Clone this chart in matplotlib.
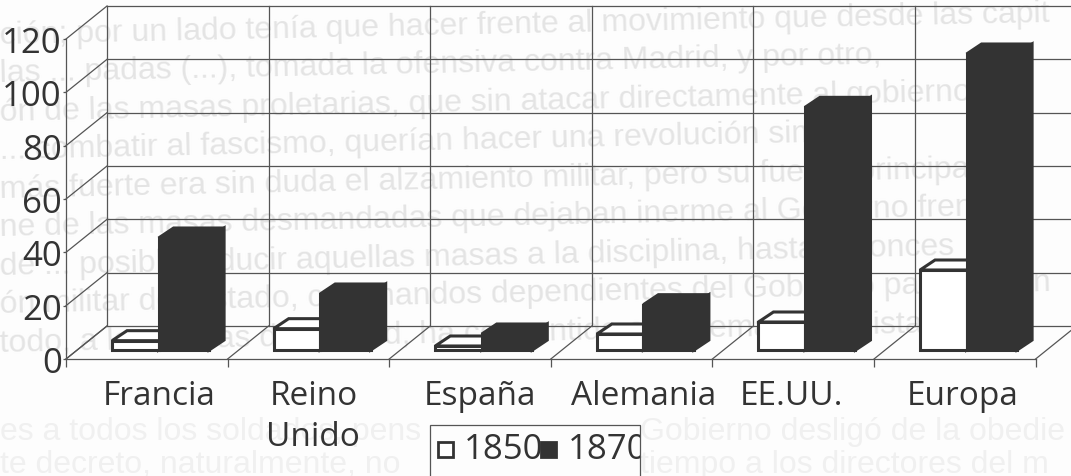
import matplotlib.pyplot as plt
from matplotlib.patches import Polygon, Rectangle

W, H = 1071, 477

categories = ["Francia", "Reino\nUnido", "España", "Alemania", "EE.UU.", "Europa"]
values_1850 = [3.5, 8, 1.5, 6, 10.5, 30]
values_1870 = [42, 21, 6, 17, 91, 111]
y_ticks = [0, 20, 40, 60, 80, 100, 120]
legend_labels = ["1850", "1870"]

# show-through from the other side of the scanned page
ghost_lines = [
    "ción; por un lado tenía que hacer frente al movimiento que desde las capit",
    "las ... padas (...), tomada la ofensiva contra Madrid, y por otro,",
    "ón de las masas proletarias, que sin atacar directamente al gobierno",
    "... combatir al fascismo, querían hacer una revolución similar",
    "más fuerte era sin duda el alzamiento militar, pero su fuerza principal v",
    "ne de las masas desmandadas que dejaban inerme al Gobierno frente",
    "de ... posible reducir aquellas masas a la disciplina, hasta entonces",
    "ón militar del Estado, con mandos dependientes del Gobierno para sosten",
    "todo, a las masas de Madrid, ha consentido el sistema capitalista",
]
ghost_lower = [
    (0, 432, "es a todos los soldados, pens"),
    (0, 465, "te decreto, naturalmente, no"),
    (640, 432, "Gobierno desligó de la obedie"),
    (640, 465, "tiempo a los directores del m"),
]

INK = "#333333"
GRID = "#555555"
PAPER = "#fdfdfd"
GHOST = "#e4e4e4"
GHOST_LOW = "#f0f0f0"
FONT = "Open Sans"

# layout in pixels of the scan
LEFT, BASE, CAT_W, UNIT = 66, 360, 161.6, 8 / 3
WALL_DX, WALL_DY = 41, 33
BAR_DX, BAR_DY = 15, 10

fig = plt.figure(figsize=(W / 100, H / 100), dpi=100, facecolor=PAPER)
ax = fig.add_axes(
    [LEFT / W, (H - BASE) / H, CAT_W * len(categories) / W, 120 * UNIT / H],
    facecolor="none",
)
ax.set_xlim(0, len(categories))
ax.set_ylim(0, 120)

for i, line in enumerate(ghost_lines):
    fig.text(0.0, 1 - (36 + i * 38.5) / H, line, fontsize=23, color=GHOST,
             family="Liberation Sans", va="center", rotation=1.2,
             rotation_mode="anchor", zorder=-5)
for x, y, line in ghost_lower:
    fig.text(x / W, 1 - y / H, line, fontsize=23, color=GHOST_LOW,
             family="Liberation Sans", va="center", zorder=-5)

dx = WALL_DX / CAT_W
dy = WALL_DY / UNIT
bdx = BAR_DX / CAT_W
bdy = BAR_DY / UNIT
bar_base = 9 / UNIT
bar_left = 0.285
white_w = 0.288
dark_w = 0.3125

# back wall and side wall grid
for t in y_ticks:
    ax.plot([dx, 7.0], [t + dy, t + dy], color=GRID, lw=0.9, clip_on=False, zorder=1)
    ax.plot([0, dx], [t, t + dy], color=GRID, lw=0.9, clip_on=False, zorder=1)
for i in range(len(categories) + 1):
    ax.plot([i + dx, i + dx], [dy, 120 + dy], color=GRID, lw=0.9, clip_on=False, zorder=1)
    ax.plot([i, i + dx], [0, dy], color=GRID, lw=0.9, clip_on=False, zorder=1)


def draw_bar(x0, w, v, face, z):
    x1 = x0 + w
    front = Rectangle((x0, bar_base), w, v, facecolor=face, edgecolor=INK,
                      lw=2.2, clip_on=False, zorder=z)
    top = Polygon([(x0, bar_base + v), (x1, bar_base + v),
                   (x1 + bdx, bar_base + v + bdy), (x0 + bdx, bar_base + v + bdy)],
                  facecolor=face, edgecolor=INK, lw=2.2, clip_on=False, zorder=z)
    side = Polygon([(x1, bar_base), (x1, bar_base + v),
                    (x1 + bdx, bar_base + v + bdy), (x1 + bdx, bar_base + bdy)],
                   facecolor=face, edgecolor=INK, lw=2.2, clip_on=False, zorder=z)
    for p in (side, top, front):
        ax.add_patch(p)


for i, (a, b) in enumerate(zip(values_1850, values_1870)):
    draw_bar(i + bar_left, white_w, a, "white", 3)
    draw_bar(i + bar_left + white_w, dark_w, b, INK, 4)

for side in ("top", "right"):
    ax.spines[side].set_visible(False)
for side in ("left", "bottom"):
    ax.spines[side].set_color(GRID)
    ax.spines[side].set_linewidth(0.9)

ax.set_yticks(y_ticks)
ax.tick_params(axis="y", length=2.5, width=0.9, color=GRID, pad=0.5, labelsize=25,
               labelcolor=INK)
ax.set_xticks(range(len(categories) + 1))
ax.tick_params(axis="x", which="major", length=6, width=0.9, color=GRID, labelbottom=False)
shifts = [12, 5, 10, 12, -2, 8]
ax.set_xticks([i + 0.5 + s / CAT_W for i, s in enumerate(shifts)], minor=True)
ax.set_xticklabels(categories, minor=True, fontsize=24, color=INK, linespacing=1.3)
ax.tick_params(axis="x", which="minor", length=0, pad=14.5)
for lab in ax.get_yticklabels() + ax.get_xticklabels(minor=True):
    lab.set_fontfamily(FONT)

# legend box runs off the bottom of the scan and cuts the last digit
legend_ax = fig.add_axes([0, 0, 1, 1], facecolor="none")
legend_ax.set_xlim(0, W)
legend_ax.set_ylim(H, 0)
legend_ax.axis("off")
box = Rectangle((430, 426), 210, 80, facecolor=PAPER, edgecolor=GRID, lw=0.9)
legend_ax.add_patch(box)
legend_ax.add_patch(Rectangle((438, 443), 15, 15, facecolor="white", edgecolor=INK, lw=2))
legend_ax.add_patch(Rectangle((541, 443), 15, 15, facecolor=INK, edgecolor=INK, lw=2))
for x, label in zip((464, 568), legend_labels):
    t = legend_ax.text(x, 450, label, fontsize=25, color=INK, family=FONT, va="center",
                       clip_on=True)
    t.set_clip_path(box)

fig.savefig("out.png", dpi=100, facecolor=PAPER)
